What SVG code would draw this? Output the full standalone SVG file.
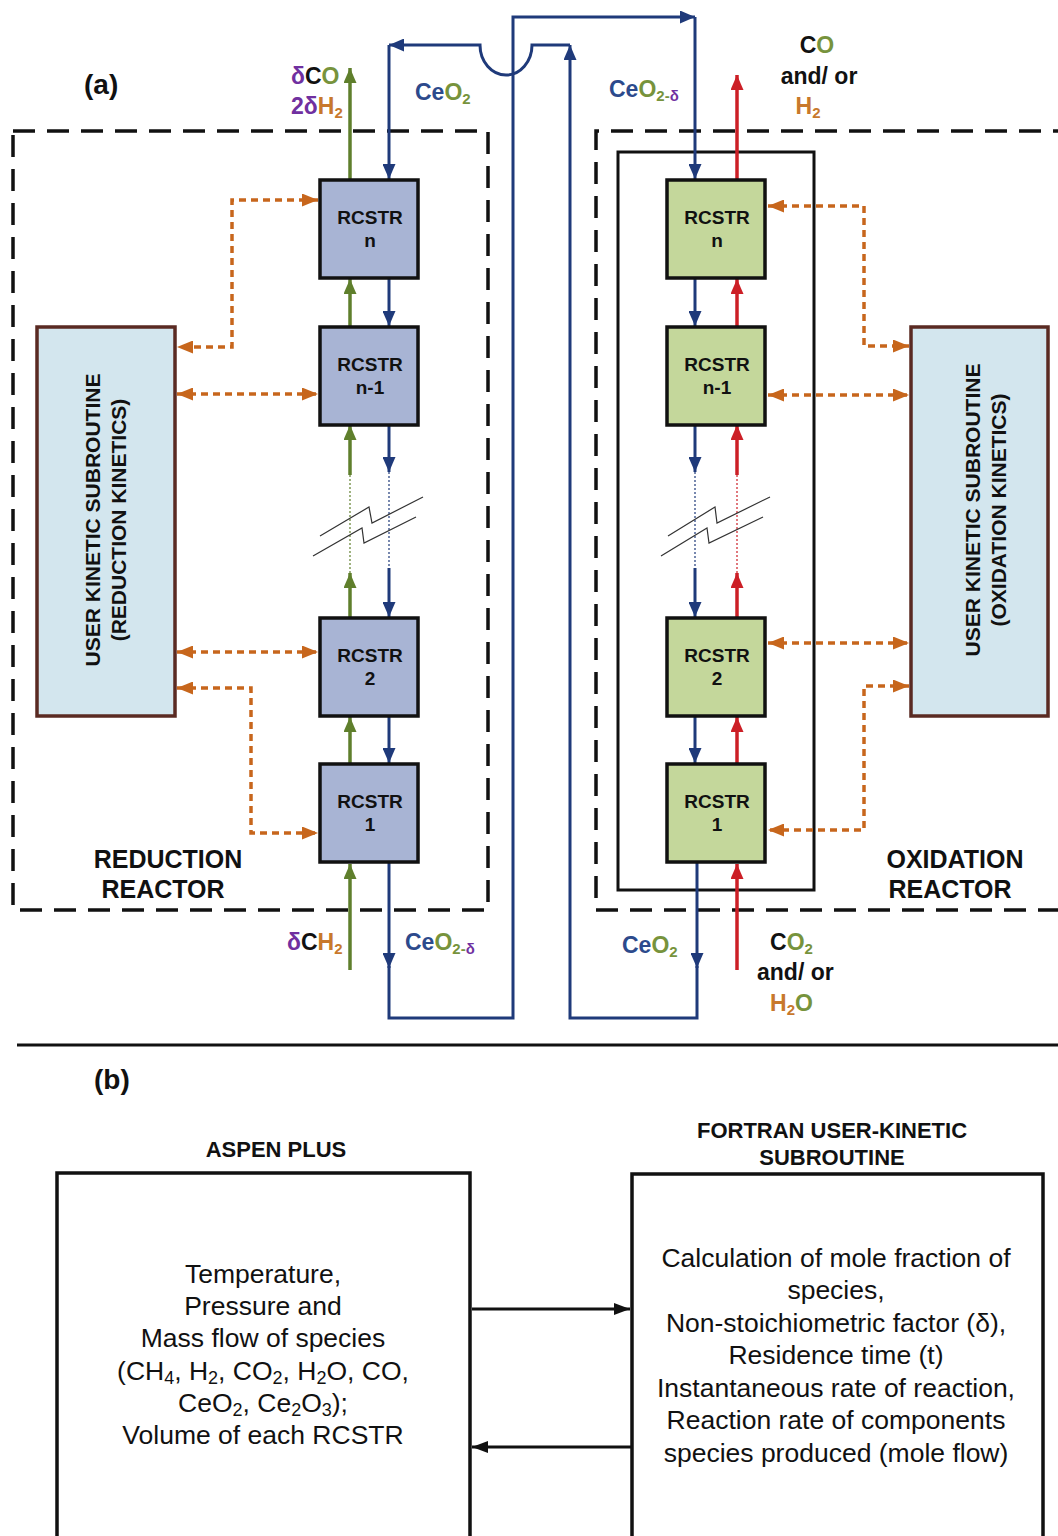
<svg xmlns="http://www.w3.org/2000/svg" width="1058" height="1536" viewBox="0 0 1058 1536">
<style>
text { font-family: "Liberation Sans", Arial, sans-serif; }
.b { font-weight: bold; }
.rc { font-weight: bold; font-size: 19px; text-anchor: middle; fill: #111; }
.lbl { font-weight: bold; font-size: 23px; }
.big { font-weight: bold; font-size: 25px; text-anchor: middle; fill: #111; }
.vt { font-weight: bold; font-size: 21px; text-anchor: middle; fill: #111; }
.bt { font-size: 26.5px; text-anchor: middle; fill: #111; }
.hd { font-weight: bold; font-size: 22px; text-anchor: middle; fill: #111; }
.rl { fill: #a8b4d4; stroke: #111; stroke-width: 3.5; }
.rr { fill: #c4d79b; stroke: #111; stroke-width: 3.5; }
.ub { fill: #d3e6ee; stroke: #5a2a22; stroke-width: 3.5; }
.dash { fill: none; stroke: #111; stroke-width: 3.5; stroke-dasharray: 22 12; }
.fb { fill: none; stroke: #1f3a7a; stroke-width: 3; }
.fg { fill: none; stroke: #5f7f2c; stroke-width: 3.5; }
.fr { fill: none; stroke: #cc1f26; stroke-width: 3.5; }
.dotb { stroke: #1f3a7a; stroke-width: 1.2; stroke-dasharray: 2 2; }
.dotg { stroke: #5f7f2c; stroke-width: 1.2; stroke-dasharray: 2 2; }
.dotr { stroke: #cc1f26; stroke-width: 1.2; stroke-dasharray: 2 2; }
.or { fill: none; stroke: #c7661c; stroke-width: 3.5; stroke-dasharray: 7 5; }
.brk { fill: none; stroke: #333; stroke-width: 1.2; }
.bk { fill: none; stroke: #111; stroke-width: 3; }
.pu { fill: #7030a0; }
.gr { fill: #77933c; }
.orr { fill: #c8782c; }
.bl { fill: #2c4a8c; }
.k { fill: #111; }
</style>
<defs>
<marker id="mb" viewBox="0 0 15 13" refX="15" refY="6.5" markerWidth="15" markerHeight="13" markerUnits="userSpaceOnUse" orient="auto"><path d="M0,0 L15,6.5 L0,13 z" fill="#1f3a7a"/></marker>
<marker id="mg" viewBox="0 0 15 13" refX="15" refY="6.5" markerWidth="15" markerHeight="13" markerUnits="userSpaceOnUse" orient="auto"><path d="M0,0 L15,6.5 L0,13 z" fill="#5f7f2c"/></marker>
<marker id="mr" viewBox="0 0 15 13" refX="15" refY="6.5" markerWidth="15" markerHeight="13" markerUnits="userSpaceOnUse" orient="auto"><path d="M0,0 L15,6.5 L0,13 z" fill="#cc1f26"/></marker>
<marker id="mo" viewBox="0 0 16 13" refX="16" refY="6.5" markerWidth="16" markerHeight="13" markerUnits="userSpaceOnUse" orient="auto-start-reverse"><path d="M0,0 L16,6.5 L0,13 z" fill="#c7661c"/></marker>
<marker id="mk" viewBox="0 0 16 12" refX="16" refY="6" markerWidth="16" markerHeight="12" markerUnits="userSpaceOnUse" orient="auto"><path d="M0,0 L16,6 L0,12 z" fill="#111"/></marker>
</defs>
<rect width="1058" height="1536" fill="#fff"/>

<!-- reactor boundaries -->
<g id="reduction-reactor">
<rect class="dash" x="13" y="131" width="475" height="779"/>
<text class="big" x="168" y="868">REDUCTION</text>
<text class="big" x="163" y="898">REACTOR</text>
</g>
<g id="oxidation-reactor">
<path class="dash" d="M1075,131 H596 V910 H1075"/>
<rect x="618" y="152" width="196" height="738" fill="none" stroke="#111" stroke-width="3"/>
<text class="big" x="955" y="868">OXIDATION</text>
<text class="big" x="950" y="898">REACTOR</text>
</g>

<text class="b" x="84" y="94" font-size="28" fill="#111">(a)</text>

<!-- connectors -->
<g id="connectors">
<!-- left green (gas up) -->
<line class="fg" x1="350" y1="970" x2="350" y2="864" marker-end="url(#mg)"/>
<line class="fg" x1="350" y1="764" x2="350" y2="717" marker-end="url(#mg)"/>
<line class="fg" x1="350" y1="618" x2="350" y2="573" marker-end="url(#mg)"/>
<line class="dotg" x1="350" y1="573" x2="350" y2="475"/>
<line class="fg" x1="350" y1="475" x2="350" y2="425" marker-end="url(#mg)"/>
<line class="fg" x1="350" y1="327" x2="350" y2="279" marker-end="url(#mg)"/>
<line class="fg" x1="350" y1="180" x2="350" y2="68" marker-end="url(#mg)"/>
<!-- left blue (solid down) -->
<line class="fb" x1="389" y1="45" x2="389" y2="179" marker-end="url(#mb)"/>
<line class="fb" x1="389" y1="278" x2="389" y2="326" marker-end="url(#mb)"/>
<line class="fb" x1="389" y1="425" x2="389" y2="472" marker-end="url(#mb)"/>
<line class="dotb" x1="389" y1="472" x2="389" y2="568"/>
<line class="fb" x1="389" y1="568" x2="389" y2="617" marker-end="url(#mb)"/>
<line class="fb" x1="389" y1="716" x2="389" y2="763" marker-end="url(#mb)"/>
<line class="fb" x1="389" y1="863" x2="389" y2="968" marker-end="url(#mb)"/>
<path class="fb" d="M389,966 V1018 H513 V17 H695" marker-end="url(#mb)"/>
<!-- right blue -->
<line class="fb" x1="695" y1="17" x2="695" y2="179" marker-end="url(#mb)"/>
<line class="fb" x1="695" y1="278" x2="695" y2="326" marker-end="url(#mb)"/>
<line class="fb" x1="695" y1="425" x2="695" y2="472" marker-end="url(#mb)"/>
<line class="dotb" x1="695" y1="472" x2="695" y2="568"/>
<line class="fb" x1="695" y1="568" x2="695" y2="617" marker-end="url(#mb)"/>
<line class="fb" x1="695" y1="716" x2="695" y2="763" marker-end="url(#mb)"/>
<line class="fb" x1="697" y1="863" x2="697" y2="968" marker-end="url(#mb)"/>
<path class="fb" d="M697,966 V1018 H570 V45" marker-end="url(#mb)"/>
<path class="fb" d="M570,45 H532 A26 30 0 0 1 480,45 H389" marker-end="url(#mb)"/>
<!-- right red (gas up) -->
<line class="fr" x1="737" y1="970" x2="737" y2="864" marker-end="url(#mr)"/>
<line class="fr" x1="737" y1="764" x2="737" y2="717" marker-end="url(#mr)"/>
<line class="fr" x1="737" y1="618" x2="737" y2="573" marker-end="url(#mr)"/>
<line class="dotr" x1="737" y1="573" x2="737" y2="475"/>
<line class="fr" x1="737" y1="475" x2="737" y2="425" marker-end="url(#mr)"/>
<line class="fr" x1="737" y1="327" x2="737" y2="279" marker-end="url(#mr)"/>
<line class="fr" x1="737" y1="180" x2="737" y2="75" marker-end="url(#mr)"/>
<!-- break symbols -->
<polyline class="brk" points="320,536 369,507 372,523 423,497"/>
<polyline class="brk" points="313,556 362,528 364,543 416,517"/>
<polyline class="brk" points="668,536 715,507 717,523 770,497"/>
<polyline class="brk" points="661,556 707,528 709,543 763,517"/>
<!-- orange kinetic links left -->
<path class="or" d="M318,200 H232 V347 H177" marker-start="url(#mo)" marker-end="url(#mo)"/>
<path class="or" d="M177,394 H318" marker-start="url(#mo)" marker-end="url(#mo)"/>
<path class="or" d="M177,652 H318" marker-start="url(#mo)" marker-end="url(#mo)"/>
<path class="or" d="M177,688 H251 V833 H318" marker-start="url(#mo)" marker-end="url(#mo)"/>
<!-- orange kinetic links right -->
<path class="or" d="M768,206 H864 V346 H909" marker-start="url(#mo)" marker-end="url(#mo)"/>
<path class="or" d="M768,395 H909" marker-start="url(#mo)" marker-end="url(#mo)"/>
<path class="or" d="M768,643 H909" marker-start="url(#mo)" marker-end="url(#mo)"/>
<path class="or" d="M909,686 H864 V830 H768" marker-start="url(#mo)" marker-end="url(#mo)"/>
<!-- part b -->
<line class="bk" x1="472" y1="1309" x2="630" y2="1309" marker-end="url(#mk)"/>
<line class="bk" x1="632" y1="1447" x2="472" y2="1447" marker-end="url(#mk)"/>
</g>

<!-- RCSTR nodes left -->
<g id="red-rcstr-n"><rect class="rl" x="320" y="180" width="98" height="98"/><text class="rc" x="370" y="224">RCSTR</text><text class="rc" x="370" y="247">n</text></g>
<g id="red-rcstr-n1"><rect class="rl" x="320" y="327" width="98" height="98"/><text class="rc" x="370" y="371">RCSTR</text><text class="rc" x="370" y="394">n-1</text></g>
<g id="red-rcstr-2"><rect class="rl" x="320" y="618" width="98" height="98"/><text class="rc" x="370" y="662">RCSTR</text><text class="rc" x="370" y="685">2</text></g>
<g id="red-rcstr-1"><rect class="rl" x="320" y="764" width="98" height="98"/><text class="rc" x="370" y="808">RCSTR</text><text class="rc" x="370" y="831">1</text></g>
<!-- RCSTR nodes right -->
<g id="ox-rcstr-n"><rect class="rr" x="667" y="180" width="98" height="98"/><text class="rc" x="717" y="224">RCSTR</text><text class="rc" x="717" y="247">n</text></g>
<g id="ox-rcstr-n1"><rect class="rr" x="667" y="327" width="98" height="98"/><text class="rc" x="717" y="371">RCSTR</text><text class="rc" x="717" y="394">n-1</text></g>
<g id="ox-rcstr-2"><rect class="rr" x="667" y="618" width="98" height="98"/><text class="rc" x="717" y="662">RCSTR</text><text class="rc" x="717" y="685">2</text></g>
<g id="ox-rcstr-1"><rect class="rr" x="667" y="764" width="98" height="98"/><text class="rc" x="717" y="808">RCSTR</text><text class="rc" x="717" y="831">1</text></g>

<!-- user kinetic subroutine boxes -->
<g id="user-red">
<rect class="ub" x="37" y="327" width="138" height="389"/>
<text class="vt" transform="translate(100,520) rotate(-90)">USER KINETIC SUBROUTINE</text>
<text class="vt" transform="translate(126,520) rotate(-90)">(REDUCTION KINETICS)</text>
</g>
<g id="user-ox">
<rect class="ub" x="911" y="327" width="137" height="389"/>
<text class="vt" transform="translate(980,510) rotate(-90)">USER KINETIC SUBROUTINE</text>
<text class="vt" transform="translate(1006,510) rotate(-90)">(OXIDATION KINETICS)</text>
</g>

<!-- stream labels -->
<g id="labels">
<text class="lbl" x="291" y="84"><tspan class="pu">δ</tspan><tspan class="k">C</tspan><tspan class="gr">O</tspan></text>
<text class="lbl" x="291" y="114"><tspan class="pu">2δ</tspan><tspan class="orr">H</tspan><tspan class="orr" font-size="15" dy="4">2</tspan></text>
<text class="lbl" x="415" y="100"><tspan class="bl">Ce</tspan><tspan class="gr">O</tspan><tspan class="gr" font-size="15" dy="4">2</tspan></text>
<text class="lbl" x="609" y="97"><tspan class="bl">Ce</tspan><tspan class="gr">O</tspan><tspan class="gr" font-size="15" dy="4">2-</tspan><tspan class="pu" font-size="15">δ</tspan></text>
<text class="lbl" x="817" y="53" text-anchor="middle"><tspan class="k">C</tspan><tspan class="gr">O</tspan></text>
<text class="lbl k" x="819" y="84" text-anchor="middle">and/ or</text>
<text class="lbl" x="808" y="114" text-anchor="middle"><tspan class="orr">H</tspan><tspan class="orr" font-size="15" dy="4">2</tspan></text>
<text class="lbl" x="287" y="950"><tspan class="pu">δ</tspan><tspan class="k">C</tspan><tspan class="orr">H</tspan><tspan class="orr" font-size="15" dy="4">2</tspan></text>
<text class="lbl" x="405" y="950"><tspan class="bl">Ce</tspan><tspan class="gr">O</tspan><tspan class="gr" font-size="15" dy="4">2-</tspan><tspan class="pu" font-size="15">δ</tspan></text>
<text class="lbl" x="622" y="953"><tspan class="bl">Ce</tspan><tspan class="gr">O</tspan><tspan class="gr" font-size="15" dy="4">2</tspan></text>
<text class="lbl" x="770" y="950"><tspan class="k">C</tspan><tspan class="gr">O</tspan><tspan class="gr" font-size="15" dy="4">2</tspan></text>
<text class="lbl k" x="757" y="980">and/ or</text>
<text class="lbl" x="770" y="1011"><tspan class="orr">H</tspan><tspan class="orr" font-size="15" dy="4">2</tspan><tspan class="gr" dy="-4">O</tspan></text>
</g>

<!-- part b -->
<line x1="17" y1="1045" x2="1058" y2="1045" stroke="#111" stroke-width="3"/>
<text class="b" x="94" y="1089" font-size="28" fill="#111">(b)</text>
<g id="aspen">
<text class="hd" x="276" y="1157">ASPEN PLUS</text>
<rect x="57" y="1173" width="413" height="380" fill="none" stroke="#111" stroke-width="3.5"/>
<text class="bt" x="263" y="1283">Temperature,</text>
<text class="bt" x="263" y="1315">Pressure and</text>
<text class="bt" x="263" y="1347">Mass flow of species</text>
<text class="bt" x="263" y="1380">(CH<tspan font-size="18" dy="4">4</tspan><tspan dy="-4">, H</tspan><tspan font-size="18" dy="4">2</tspan><tspan dy="-4">, CO</tspan><tspan font-size="18" dy="4">2</tspan><tspan dy="-4">, H</tspan><tspan font-size="18" dy="4">2</tspan><tspan dy="-4">O, CO,</tspan></text>
<text class="bt" x="263" y="1412">CeO<tspan font-size="18" dy="4">2</tspan><tspan dy="-4">, Ce</tspan><tspan font-size="18" dy="4">2</tspan><tspan dy="-4">O</tspan><tspan font-size="18" dy="4">3</tspan><tspan dy="-4">);</tspan></text>
<text class="bt" x="263" y="1444">Volume of each RCSTR</text>
</g>
<g id="fortran">
<text class="hd" x="832" y="1138">FORTRAN USER-KINETIC</text>
<text class="hd" x="832" y="1165">SUBROUTINE</text>
<rect x="632" y="1174" width="411" height="380" fill="none" stroke="#111" stroke-width="3.5"/>
<text class="bt" x="836" y="1267">Calculation of mole fraction of</text>
<text class="bt" x="836" y="1299">species,</text>
<text class="bt" x="836" y="1332">Non-stoichiometric factor (δ),</text>
<text class="bt" x="836" y="1364">Residence time (t)</text>
<text class="bt" x="836" y="1397">Instantaneous rate of reaction,</text>
<text class="bt" x="836" y="1429">Reaction rate of components</text>
<text class="bt" x="836" y="1462">species produced (mole flow)</text>
</g>
</svg>
